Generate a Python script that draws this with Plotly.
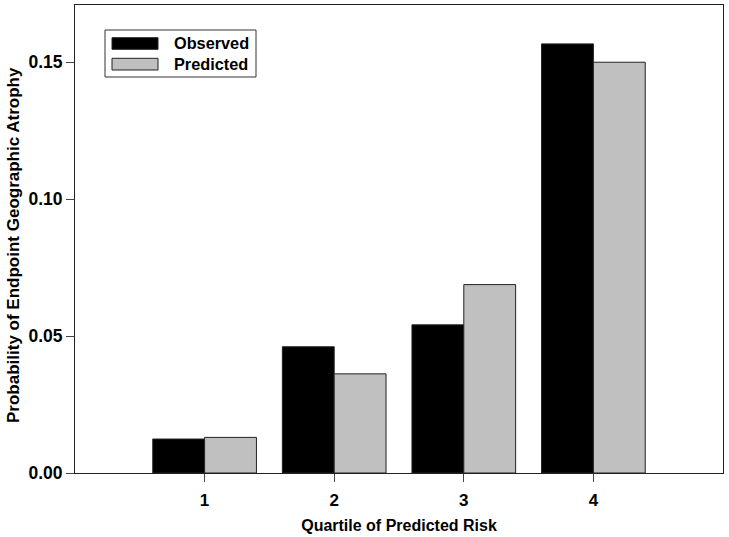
import plotly.graph_objects as go

quartiles = [1, 2, 3, 4]
observed = [0.0124, 0.0461, 0.0541, 0.1567]
predicted = [0.0130, 0.0362, 0.0688, 0.1500]
series_names = ["Observed", "Predicted"]
colors = ["#000000", "#C0C0C0"]

W, H = 729, 537
ML, MR, MT, MB = 75, 6, 5, 64
PW, PH = W - ML - MR, H - MT - MB

def px(x):
    return (x - ML) / PW

def py(y):
    return (H - MB - y) / PH

def f(size):
    return dict(family="Arial, Liberation Sans, sans-serif", size=size, color="black", weight="bold")

fig = go.Figure()
for name, vals, col in zip(series_names, [observed, predicted], colors):
    fig.add_trace(go.Bar(x=quartiles, y=vals, name=name,
                         marker=dict(color=col, line=dict(color="#222222", width=1)), showlegend=False))

fig.update_layout(
    width=W, height=H,
    margin=dict(l=ML, r=MR, t=MT, b=MB, autoexpand=False),
    paper_bgcolor="white", plot_bgcolor="white",
    barmode="group", bargap=0.2, bargroupgap=0,
    font=f(16),
    xaxis=dict(range=[0, 5], tickvals=quartiles, ticktext=[str(q) for q in quartiles],
               showline=True, mirror=True, linecolor="#222222", linewidth=1, automargin=False,
               ticks="outside", ticklen=8, tickcolor="#444444", showgrid=False, zeroline=False,
               tickfont=f(17), ticklabelstandoff=4,
               title=dict(text="Quartile of Predicted Risk", font=f(16), standoff=10)),
    yaxis=dict(range=[0, 0.1709], tickvals=[0, 0.05, 0.10, 0.15], tickformat=".2f",
               showline=True, mirror=True, linecolor="#222222", linewidth=1, automargin=False,
               ticks="outside", ticklen=8, tickcolor="#444444", showgrid=False, zeroline=False,
               tickfont=f(17.5)),
)

fig.add_annotation(xref="paper", yref="paper", x=px(14), y=py(245), text="Probability of Endpoint Geographic Atrophy",
                   textangle=-90, showarrow=False, xanchor="center", yanchor="middle", font=f(17))

# legend box drawn in plot-paper coordinates
fig.add_shape(type="rect", xref="paper", yref="paper", x0=px(105), x1=px(256), y0=py(77), y1=py(30),
              line=dict(color="#333333", width=1), fillcolor="white")
swatch_y = [(37.7, 49.3), (58.3, 70)]
text_y = [43, 64]
for name, col, (t, b), ty in zip(series_names, colors, swatch_y, text_y):
    fig.add_shape(type="rect", xref="paper", yref="paper", x0=px(112), x1=px(158), y0=py(b), y1=py(t),
                  line=dict(color="#222222", width=1), fillcolor=col)
    fig.add_annotation(xref="paper", yref="paper", x=px(172), y=py(ty), text=name, showarrow=False,
                       xanchor="left", yanchor="middle", font=f(16.3))

fig.write_html("out.html", config={"displayModeBar": False},
               post_script="document.body.style.margin='0';document.body.style.overflow='hidden';")
